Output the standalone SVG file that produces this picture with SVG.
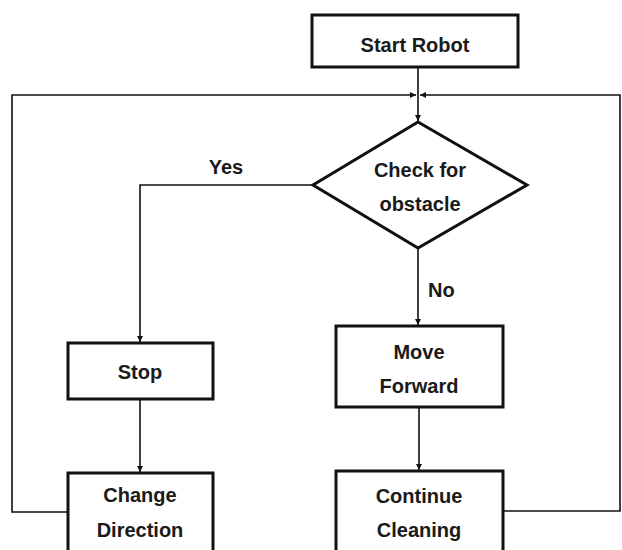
<svg xmlns="http://www.w3.org/2000/svg" width="622" height="550" viewBox="0 0 622 550">
<style>
  .box { fill: #fff; stroke: #111; stroke-width: 3; }
  .conn { fill: none; stroke: #111; stroke-width: 1.6; }
  text { font-family: "Liberation Sans", Arial, sans-serif; font-weight: bold; font-size: 20px; fill: #1a1a1a; }
  .c { text-anchor: middle; }
</style>
<defs>
  <marker id="arr" viewBox="0 0 8 8" refX="8" refY="4" markerWidth="6" markerHeight="6" markerUnits="userSpaceOnUse" orient="auto">
    <path d="M0,0 L8,4 L0,8 Z" fill="#111"/>
  </marker>
</defs>
<rect width="622" height="550" fill="#fff"/>
<g id="connectors">
  <path class="conn" d="M418,67 V121" marker-end="url(#arr)"/>
  <path class="conn" d="M68,512 H12 V95 H416" marker-end="url(#arr)"/>
  <path class="conn" d="M503,511 H620 V95 H420" marker-end="url(#arr)"/>
  <path class="conn" d="M313,185 H140 V342" marker-end="url(#arr)"/>
  <path class="conn" d="M418,248 V325" marker-end="url(#arr)"/>
  <path class="conn" d="M140,399 V472" marker-end="url(#arr)"/>
  <path class="conn" d="M419,407 V470" marker-end="url(#arr)"/>
  <text x="226" y="174" class="c">Yes</text>
  <text x="428" y="297">No</text>
</g>
<g id="start">
  <rect class="box" x="312" y="15" width="206" height="52"/>
  <text x="415" y="52" class="c">Start Robot</text>
</g>
<g id="check">
  <polygon class="box" points="418,122 527,185 418,248 313,185"/>
  <text x="420" y="177" class="c">Check for</text>
  <text x="420" y="211" class="c">obstacle</text>
</g>
<g id="stop">
  <rect class="box" x="68" y="343" width="145" height="56"/>
  <text x="140" y="379" class="c">Stop</text>
</g>
<g id="change">
  <rect class="box" x="68" y="473" width="145" height="90"/>
  <text x="140" y="502" class="c">Change</text>
  <text x="140" y="537" class="c">Direction</text>
</g>
<g id="move">
  <rect class="box" x="336" y="326" width="167" height="81"/>
  <text x="419" y="359" class="c">Move</text>
  <text x="419" y="393" class="c">Forward</text>
</g>
<g id="continue">
  <rect class="box" x="336" y="471" width="167" height="92"/>
  <text x="419" y="503" class="c">Continue</text>
  <text x="419" y="537" class="c">Cleaning</text>
</g>
</svg>
